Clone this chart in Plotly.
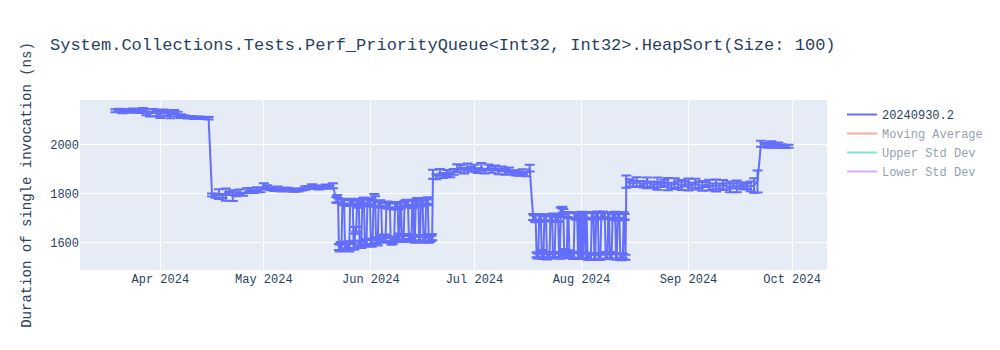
import pandas as pd
import plotly.graph_objects as go

# ---- segment 1: daily, 2024-03-19 .. 2024-05-21 ----
seg1_start, seg1_end = "2024-03-19", "2024-05-21"
seg1_vals = [2140, 2143, 2137, 2142, 2138, 2144, 2140, 2136, 2142, 2134, 2126, 2139, 2131,
             2124, 2137, 2129, 2121, 2134, 2126, 2118, 2116, 2113, 2114, 2111, 2112, 2110, 2111, 2109,
             1795, 1792, 1799, 1791, 1797, 1801, 1793, 1798, 1806, 1798, 1813, 1816, 1809, 1819, 1812,
             1833, 1827, 1821, 1816, 1823, 1814, 1819, 1820, 1815, 1813, 1815, 1818, 1824, 1826, 1831,
             1827, 1825, 1828, 1830, 1828, 1833]
seg1_err = [6, 5, 7, 5, 6, 5, 7, 5, 9, 12, 10, 8, 12,
            14, 8, 10, 12, 9, 10, 8, 6, 5, 5, 5, 4, 4, 4, 5,
            6, 8, 20, 8, 25, 6, 22, 8, 12, 6, 10, 8, 6, 8, 6,
            10, 8, 6, 5, 7, 5, 6, 5, 7, 5, 6, 5, 7, 6, 8,
            6, 7, 6, 8, 6, 10]

# ---- segment 2: every 6 h, 2024-05-22 .. 2024-06-18 ----
seg2_start, seg2_end = "2024-05-22 00:00", "2024-06-18 18:00"
seg2_vals = [1775, 1780, 1772, 1582, 1578, 1585, 1580, 1770, 1768, 1765, 1590, 1586,
             1583, 1588, 1592, 1580, 1762, 1765, 1770, 1766, 1590, 1585, 1650, 1655,
             1760, 1762, 1758, 1595, 1598, 1592, 1768, 1772, 1770, 1600, 1605, 1598,
             1765, 1768, 1762, 1770, 1602, 1598, 1605, 1760, 1785, 1780, 1610, 1606,
             1600, 1760, 1758, 1762, 1755, 1615, 1612, 1618, 1620, 1615, 1752, 1756,
             1750, 1754, 1752, 1610, 1605, 1612, 1608, 1615, 1752, 1750, 1755, 1748,
             1620, 1625, 1752, 1755, 1618, 1622, 1615, 1758, 1760, 1762, 1758, 1765,
             1620, 1625, 1618, 1622, 1755, 1760, 1615, 1612, 1765, 1770, 1768, 1762,
             1618, 1620, 1760, 1765, 1768, 1615, 1612, 1618, 1770, 1765, 1772, 1610,
             1615, 1620, 1618, 1622]
seg2_err = [12, 15, 10, 12, 14, 18, 12, 10, 10, 12, 15, 12,
            12, 10, 14, 16, 12, 14, 10, 12, 18, 12, 14, 10,
            12, 10, 15, 12, 10, 14, 12, 10, 15, 12, 10, 14,
            12, 10, 14, 12, 10, 15, 12, 12, 14, 10, 12, 10,
            12, 10, 14, 12, 10, 12, 10, 15, 12, 14, 10, 12,
            10, 12, 14, 10, 14, 10, 12, 10, 12, 14, 10, 12,
            10, 12, 14, 10, 12, 10, 12, 14, 10, 14, 12, 10,
            12, 10, 14, 12, 14, 12, 10, 12, 10, 12, 14, 10,
            12, 10, 12, 14, 14, 10, 12, 12, 10, 12, 14, 10,
            12, 14, 10, 12]

# ---- segment 3: daily, 2024-06-19 .. 2024-07-17 ----
seg3_start, seg3_end = "2024-06-19", "2024-07-17"
seg3_vals = [1880, 1870, 1888, 1875, 1885, 1878, 1890, 1905, 1908, 1895, 1910, 1900,
             1905, 1895, 1910, 1893, 1908, 1900, 1906, 1892, 1902, 1890, 1898, 1888, 1885,
             1882, 1890, 1880, 1905]
seg3_err = [18, 10, 14, 10, 12, 10, 12, 16, 10, 12, 14, 10,
            14, 10, 16, 10, 12, 14, 10, 12, 10, 12, 10, 8, 10,
            8, 10, 8, 14]

# ---- segment 4: every 6 h, 2024-07-18 .. 2024-08-13 ----
seg4_start, seg4_end = "2024-07-18 00:00", "2024-08-13 18:00"
seg4_vals = [1705, 1702, 1700, 1698, 1550, 1548, 1545, 1700, 1702, 1705, 1552, 1550,
             1548, 1700, 1703, 1698, 1545, 1543, 1550, 1548, 1698, 1702, 1705, 1552,
             1550, 1548, 1700, 1698, 1695, 1700, 1545, 1548, 1725, 1730, 1735, 1728,
             1560, 1558, 1555, 1552, 1715, 1712, 1555, 1553, 1550, 1548, 1545, 1550,
             1710, 1712, 1708, 1711, 1548, 1710, 1545, 1709, 1545, 1712, 1548, 1710,
             1709, 1545, 1711, 1543, 1545, 1543, 1540, 1542, 1712, 1710, 1708, 1540,
             1542, 1712, 1715, 1710, 1545, 1540, 1543, 1710, 1712, 1715, 1710, 1712,
             1545, 1548, 1545, 1710, 1712, 1545, 1548, 1542, 1705, 1710, 1708, 1712,
             1545, 1542, 1705, 1710, 1712, 1545, 1540, 1543, 1545, 1710, 1705, 1540]
seg4_err = [12, 10, 12, 15, 10, 12, 10, 14, 10, 12, 18, 10,
            15, 10, 12, 10, 14, 10, 12, 12, 10, 12, 14, 10,
            12, 10, 14, 12, 10, 12, 10, 14, 18, 15, 12, 10,
            14, 10, 12, 16, 10, 12, 14, 10, 12, 10, 12, 14,
            10, 12, 14, 10, 12, 10, 12, 14, 10, 14, 12, 10,
            12, 10, 14, 12, 14, 12, 10, 12, 10, 12, 14, 10,
            12, 10, 12, 14, 14, 10, 12, 12, 10, 12, 14, 10,
            12, 14, 10, 12, 10, 12, 14, 10, 12, 10, 12, 14,
            10, 12, 14, 10, 12, 10, 12, 14, 10, 14, 12, 10]

# ---- segment 5: daily, 2024-08-14 .. 2024-09-30 ----
seg5_start, seg5_end = "2024-08-14", "2024-09-30"
seg5_vals = [1850, 1845, 1840, 1848, 1842, 1838, 1845, 1840, 1836, 1842, 1838, 1845, 1840, 1835, 1842,
             1838, 1836, 1840,
             1838, 1835, 1840, 1836, 1832, 1838, 1835, 1830, 1834, 1832, 1836, 1830, 1828, 1832, 1830,
             1835, 1828, 1832, 1830, 1834, 1850,
             2005, 2000, 1998, 2003, 1997, 2000, 1995, 1993, 1995]
seg5_err = [25, 15, 12, 20, 10, 12, 22, 10, 12, 25, 10, 12, 25, 10, 22, 12, 20, 10,
            25, 10, 22, 12, 20, 10, 22, 12, 25, 10, 20, 12, 22, 10, 24,
            12, 10, 12, 20, 30, 45,
            12, 8, 10, 12, 8, 10, 8, 6, 6]

segments = [
    (seg1_start, seg1_end, "D", seg1_vals, seg1_err),
    (seg2_start, seg2_end, "6h", seg2_vals, seg2_err),
    (seg3_start, seg3_end, "D", seg3_vals, seg3_err),
    (seg4_start, seg4_end, "6h", seg4_vals, seg4_err),
    (seg5_start, seg5_end, "D", seg5_vals, seg5_err),
]

dates, values, errors = [], [], []
for s, e, f, v, er in segments:
    d = list(pd.date_range(s, e, freq=f))
    n = min(len(d), len(v), len(er))
    dates += d[:n]
    values += v[:n]
    errors += er[:n]

series = pd.Series(values, index=pd.DatetimeIndex(dates))
moving_avg = series.rolling(7, min_periods=1).mean()
moving_std = series.rolling(7, min_periods=1).std().fillna(0)
upper = moving_avg + moving_std
lower = moving_avg - moving_std

font_family = "Courier New, Courier, Nimbus Mono PS, Nimbus Mono L, FreeMono, Liberation Mono, monospace"

fig = go.Figure()
fig.add_trace(go.Scatter(
    x=dates, y=values, mode="lines", name="20240930.2",
    line=dict(color="#636efa", width=2),
    error_y=dict(type="data", array=errors, visible=True, thickness=2, width=5, color="#636efa"),
))
fig.add_trace(go.Scatter(x=dates, y=moving_avg, mode="lines", name="Moving Average",
                         line=dict(color="#EF553B"), visible="legendonly"))
fig.add_trace(go.Scatter(x=dates, y=upper, mode="lines", name="Upper Std Dev",
                         line=dict(color="#00cc96"), visible="legendonly"))
fig.add_trace(go.Scatter(x=dates, y=lower, mode="lines", name="Lower Std Dev",
                         line=dict(color="#ab63fa"), visible="legendonly"))

fig.update_layout(
    width=1000, height=350,
    template="plotly",
    font=dict(family=font_family),
    title=dict(text="System.Collections.Tests.Perf_PriorityQueue<Int32, Int32>.HeapSort(Size: 100)"),
    yaxis=dict(title=dict(text="Duration of single invocation (ns)"), range=[1488, 2184]),
    xaxis=dict(range=["2024-03-08 18:00", "2024-10-11 03:00"]),
)

fig.write_html("out.html")
